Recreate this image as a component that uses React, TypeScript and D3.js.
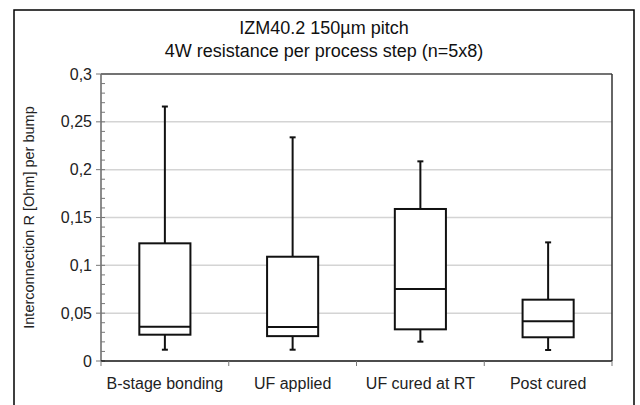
import * as d3 from "d3";

// categories and box statistics
const categories = ["B-stage bonding", "UF applied", "UF cured at RT", "Post cured"];
const whiskerLow = [0.0118, 0.0118, 0.0202, 0.0115];
const boxLow = [0.0275, 0.026, 0.0331, 0.0248];
const medians = [0.0359, 0.0355, 0.0753, 0.0415];
const boxHigh = [0.123, 0.109, 0.1589, 0.0641];
const whiskerHigh = [0.266, 0.2338, 0.2087, 0.124];

const yTicks = [0, 0.05, 0.1, 0.15, 0.2, 0.25, 0.3];
const yTickLabels = ["0", "0,05", "0,1", "0,15", "0,2", "0,25", "0,3"];
const minorTicks = d3.range(0, 0.3001, 0.01);

const titleLines = ["IZM40.2 150µm pitch", "4W resistance per process step (n=5x8)"];
const yTitle = "Interconnection R [Ohm] per bump";

const W = 640;
const H = 405;
const margin = { top: 74, right: 28, bottom: 44, left: 101 };

const App = () => {
  const x = d3
    .scaleBand()
    .domain(categories)
    .range([margin.left, W - margin.right])
    .paddingInner(0)
    .paddingOuter(0);

  const y = d3
    .scaleLinear()
    .domain([0, 0.3])
    .range([H - margin.bottom, margin.top]);

  const boxW = x.bandwidth() * 0.4;
  const capW = 6;
  const font = "'Liberation Sans', Arial, sans-serif";
  const x0 = margin.left;
  const x1 = W - margin.right;
  const yBottom = y(0);
  const yTop = y(0.3);
  const boundaries = categories.map((c) => x(c) as number).concat([x1]);

  return (
    <svg
      width={W}
      height={H}
      style={{ position: "absolute", left: 0, top: 0, background: "#fff" }}
      fontFamily={font}
    >
      <rect x={14} y={10} width={620} height={420} fill="#fff" stroke="#000" strokeWidth={1.5} />

      {titleLines.map((t, i) => (
        <text key={t} x={324} y={34 + i * 23} textAnchor="middle" fontSize={18} fill="#111">
          {t}
        </text>
      ))}

      {/* gridlines */}
      {yTicks.slice(1, -1).map((v) => (
        <line key={v} x1={x0} x2={x1} y1={y(v)} y2={y(v)} stroke="#d4d4d4" strokeWidth={1.5} />
      ))}

      {/* plot frame top / right */}
      <line x1={x0} x2={x1} y1={yTop} y2={yTop} stroke="#444" strokeWidth={1.5} />
      <line x1={x1} x2={x1} y1={yTop} y2={yBottom} stroke="#333" strokeWidth={1.5} />

      {/* y axis */}
      <line x1={x0} x2={x0} y1={yTop} y2={yBottom} stroke="#666" strokeWidth={1.5} />
      {minorTicks.map((v) => (
        <line key={"m" + v} x1={x0} x2={x0 + 4} y1={y(v)} y2={y(v)} stroke="#777" strokeWidth={1} />
      ))}
      {yTicks.map((v, i) => (
        <g key={"t" + v}>
          <line x1={x0 - 5} x2={x0} y1={y(v)} y2={y(v)} stroke="#777" strokeWidth={1} />
          <text x={x0 - 9} y={y(v)} dy="0.35em" textAnchor="end" fontSize={16} fill="#222">
            {yTickLabels[i]}
          </text>
        </g>
      ))}
      <text
        transform={`translate(29,${(yTop + yBottom) / 2}) rotate(-90)`}
        textAnchor="middle"
        dy="0.35em"
        fontSize={14.5}
        fill="#222"
      >
        {yTitle}
      </text>

      {/* x axis */}
      <line x1={x0} x2={x1} y1={yBottom} y2={yBottom} stroke="#111" strokeWidth={1.5} />
      {boundaries.map((bx) => (
        <line key={"b" + bx} x1={bx} x2={bx} y1={yBottom} y2={yBottom + 5} stroke="#777" strokeWidth={1} />
      ))}
      {categories.map((c) => (
        <text
          key={c}
          x={(x(c) as number) + x.bandwidth() / 2}
          y={yBottom + 28}
          textAnchor="middle"
          fontSize={16}
          fill="#222"
        >
          {c}
        </text>
      ))}

      {/* boxes */}
      {categories.map((c, i) => {
        const cx = (x(c) as number) + x.bandwidth() / 2;
        return (
          <g key={"box" + c} stroke="#111" strokeWidth={2} fill="none">
            <line x1={cx} x2={cx} y1={y(whiskerHigh[i])} y2={y(boxHigh[i])} />
            <line x1={cx} x2={cx} y1={y(boxLow[i])} y2={y(whiskerLow[i])} />
            <line x1={cx - capW / 2} x2={cx + capW / 2} y1={y(whiskerHigh[i])} y2={y(whiskerHigh[i])} />
            <line x1={cx - capW / 2} x2={cx + capW / 2} y1={y(whiskerLow[i])} y2={y(whiskerLow[i])} />
            <rect
              x={cx - boxW / 2}
              y={y(boxHigh[i])}
              width={boxW}
              height={y(boxLow[i]) - y(boxHigh[i])}
              fill="#fff"
            />
            <line x1={cx - boxW / 2} x2={cx + boxW / 2} y1={y(medians[i])} y2={y(medians[i])} />
          </g>
        );
      })}
    </svg>
  );
};

export default App;
